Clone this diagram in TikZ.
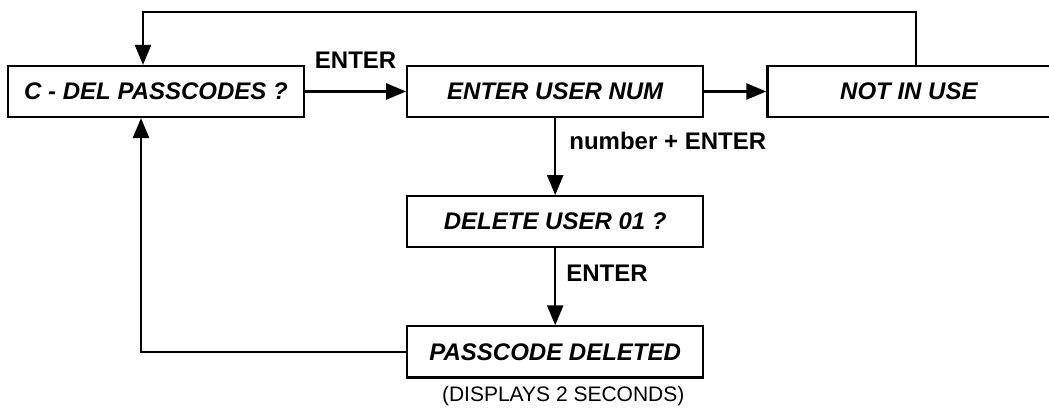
\documentclass[tikz,border=0pt]{standalone}
\usepackage{fontspec}
\setmainfont{Liberation Sans}
\usetikzlibrary{arrows.meta, positioning}

\begin{document}
\begin{tikzpicture}[
        x=0.5pt, y=0.5pt,
        screen/.style={
            rectangle, draw=black, line width=1.1pt, inner sep=0pt,
            minimum width=148pt, minimum height=25.5pt, align=center,
            font=\fontsize{12}{14}\selectfont\bfseries\itshape
        },
        keylbl/.style={inner sep=0pt, font=\fontsize{12}{14}\selectfont\bfseries},
        arrow/.style={-{Triangle[length=10pt, width=8pt]}, line width=1.2pt}
    ]
        \useasboundingbox (0,0) rectangle (1049,407);

        % Top row
        \node[screen] (cdel) at (156,315.5) {C - DEL PASSCODES ?};
        \node[screen, right=50.5pt of cdel] (euser) {ENTER USER NUM};
        \node[screen, minimum width=141.5pt, right=31pt of euser] (notuse) {NOT IN USE};

        % Down the middle
        \node[screen, below=38.5pt of euser] (deluser) {DELETE USER 01 ?};
        \node[screen, below=38.5pt of deluser] (pdel) {PASSCODE DELETED};
        \node[below=3.5pt of pdel, xshift=4pt, inner sep=0pt, font=\fontsize{10.5}{12}\selectfont] (note) {(DISPLAYS 2 SECONDS)};

        % Flow arrows
        \draw[arrow] (cdel) -- (euser) node[keylbl, midway, above=11pt] (kenter) {ENTER};
        \draw[arrow] (euser) -- (notuse);
        \draw[arrow] (euser) -- (deluser)
            node[keylbl, at start, anchor=north west, xshift=6.5pt, yshift=-6.5pt] (knum) {number + ENTER};
        \draw[arrow] (deluser) -- (pdel)
            node[keylbl, at start, anchor=north west, xshift=5pt, yshift=-7.5pt] (kdel) {ENTER};

        % Return paths
        \draw[arrow] ([xshift=3.5pt]notuse.north) -- ++(0,53) -| ([xshift=-6.5pt]cdel.north);
        \draw[arrow] (pdel.west) -| ([xshift=-7.5pt]cdel.south);

    \end{tikzpicture}
\end{document}
